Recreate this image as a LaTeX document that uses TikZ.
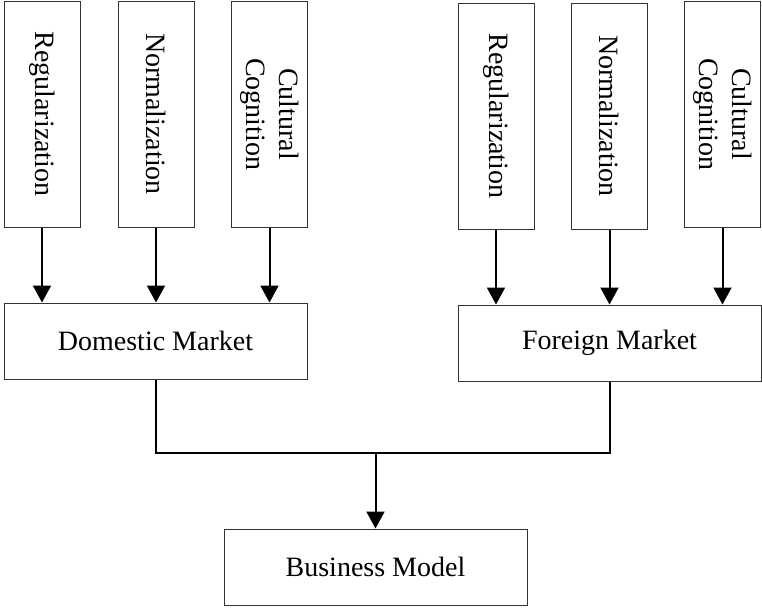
\documentclass[tikz,border=0pt]{standalone}
\usepackage{fontspec}
\setmainfont{Liberation Serif}
\usetikzlibrary{arrows.meta}

\tikzset{
  factor/.style={draw=black!80, line width=0.5pt, fill=white, minimum width=38pt, minimum height=113pt,
    inner sep=0pt, align=center, font=\fontsize{14}{16.5}\selectfont},
  market/.style={draw=black!80, line width=0.5pt, fill=white, minimum width=151.5pt, minimum height=38pt,
    inner sep=0pt, font=\fontsize{14}{16.5}\selectfont},
  link/.style={line width=1pt, black},
  arrow/.style={link, -{Triangle[width=9pt,length=8.5pt]}}
}

\begin{document}
\begin{tikzpicture}[x=0.5pt,y=-0.5pt]
    \useasboundingbox (0,0) rectangle (762,607);

    %domestic side
    \node[factor] (dReg) at (42,114) {\rotatebox{-90}{Regularization}};
    \node[factor] (dNor) at (156,114) {\rotatebox{-90}{Normalization}};
    \node[factor] (dCul) at (269.5,114) {\rotatebox{-90}{\begin{tabular}{@{}c@{}}Cultural\\Cognition\end{tabular}}};
    \node[market] (dom) at (155.5,341) {Domestic Market};

    %foreign side
    \node[factor] (fReg) at (496,116) {\rotatebox{-90}{Regularization}};
    \node[factor] (fNor) at (609.5,116) {\rotatebox{-90}{Normalization}};
    \node[factor] (fCul) at (722.5,114) {\rotatebox{-90}{\begin{tabular}{@{}c@{}}Cultural\\Cognition\end{tabular}}};
    \node[market] (fgn) at (609.5,343) {Foreign Market};

    %result
    \node[market] (biz) at (375.5,567) {Business Model};
    \coordinate (join) at (375.5,453);

    %arrows into markets
    \foreach \f in {dReg,dNor,dCul}
        \draw[arrow] (\f.south) -- (\f.south |- dom.north);
    \foreach \f in {fReg,fNor,fCul}
        \draw[arrow] (\f.south) -- (\f.south |- fgn.north);

    %markets to business model
    \draw[link] (dom.south) |- (join) -| (fgn.south);
    \draw[arrow] (join) -- (biz.north);
\end{tikzpicture}
\end{document}
